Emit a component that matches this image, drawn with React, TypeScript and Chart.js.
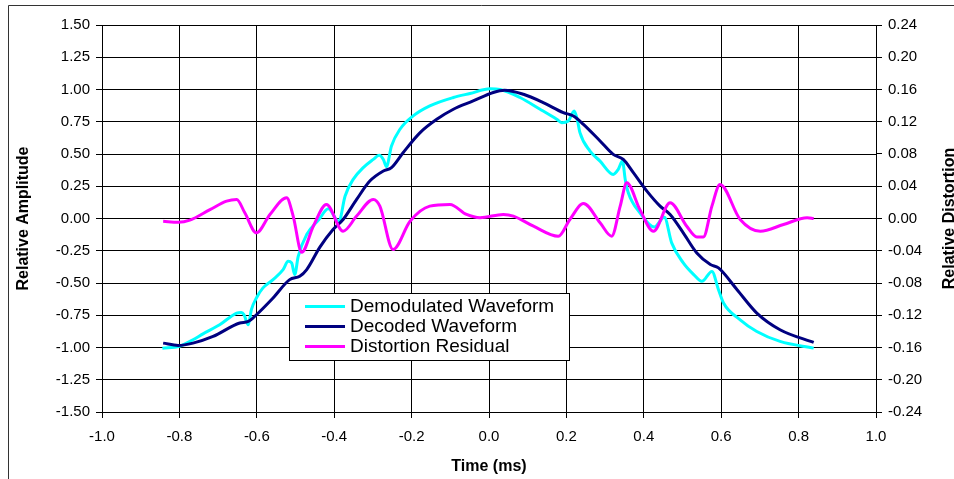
import React, { useEffect, useRef } from "react";
import { Chart, registerables } from "chart.js";

Chart.register(...registerables);

// ---- Data ----
const demodX = [
  -0.844, -0.8, -0.765, -0.739, -0.696, -0.652, -0.64, -0.633, -0.622, -0.614,
  -0.601, -0.584, -0.558, -0.532, -0.519, -0.51, -0.502, -0.493, -0.471, -0.44,
  -0.415, -0.388, -0.372, -0.351, -0.325, -0.299, -0.284, -0.273, -0.265, -0.252,
  -0.23, -0.196, -0.153, -0.092, -0.049, 0.003, 0.028, 0.08, 0.132, 0.175,
  0.188, 0.205, 0.22, 0.228, 0.235, 0.261, 0.287, 0.321, 0.334, 0.345,
  0.352, 0.36, 0.39, 0.427, 0.453, 0.472, 0.502, 0.529, 0.55, 0.576,
  0.593, 0.606, 0.649, 0.692, 0.752, 0.839,
];
const demodY = [
  -1.005, -0.99, -0.94, -0.894, -0.824, -0.733, -0.728, -0.746, -0.824, -0.707,
  -0.616, -0.538, -0.474, -0.396, -0.332, -0.344, -0.435, -0.293, -0.124, -0.01,
  0.075, -0.025, 0.173, 0.303, 0.394, 0.458, 0.49, 0.458, 0.402, 0.562,
  0.692, 0.795, 0.873, 0.938, 0.969, 1.005, 1.0, 0.938, 0.847, 0.769,
  0.743, 0.756, 0.834, 0.769, 0.666, 0.523, 0.445, 0.342, 0.381, 0.445,
  0.303, 0.2, 0.044, -0.066, 0.01, -0.189, -0.344, -0.435, -0.487, -0.41,
  -0.552, -0.655, -0.785, -0.876, -0.953, -1.005,
];

const decodedX = [
  -0.842, -0.803, -0.765, -0.713, -0.644, -0.622, -0.601, -0.558, -0.515, -0.489,
  -0.471, -0.437, -0.403, -0.377, -0.342, -0.308, -0.273, -0.252, -0.222, -0.178,
  -0.135, -0.092, -0.041, 0.011, 0.04, 0.089, 0.14, 0.192, 0.218, 0.244,
  0.287, 0.321, 0.347, 0.373, 0.408, 0.442, 0.468, 0.502, 0.537, 0.572,
  0.593, 0.641, 0.692, 0.752, 0.839,
];
const decodedY = [
  -0.966, -0.984, -0.966, -0.914, -0.81, -0.798, -0.746, -0.616, -0.474, -0.448,
  -0.396, -0.222, -0.085, -0.008, 0.148, 0.29, 0.368, 0.394, 0.51, 0.666,
  0.769, 0.847, 0.911, 0.977, 0.995, 0.963, 0.899, 0.821, 0.795, 0.73,
  0.601, 0.497, 0.458, 0.355, 0.212, 0.096, 0.031, -0.111, -0.267, -0.357,
  -0.383, -0.552, -0.733, -0.862, -0.961,
];

const residualX = [
  -0.842, -0.803, -0.773, -0.721, -0.678, -0.652, -0.631, -0.601, -0.566, -0.523,
  -0.506, -0.484, -0.454, -0.42, -0.377, -0.342, -0.299, -0.282, -0.248, -0.204,
  -0.153, -0.101, -0.058, -0.023, 0.037, 0.063, 0.115, 0.179, 0.209, 0.244,
  0.287, 0.317, 0.339, 0.356, 0.39, 0.425, 0.468, 0.511, 0.537, 0.554,
  0.576, 0.597, 0.649, 0.701, 0.761, 0.822, 0.839,
];
const residualY = [
  -0.0034, -0.0046, -0.002, 0.011, 0.0215, 0.0236, 0.007, -0.0178, 0.005, 0.0257,
  0.003, -0.042, -0.0096, 0.0174, -0.0158, 0.003, 0.0236, 0.0153, -0.0385, -0.0034,
  0.0153, 0.0174, 0.005, 0.001, 0.005, 0.003, -0.0096, -0.022, -0.0012, 0.0186,
  -0.0053, -0.022, 0.0153, 0.0443, 0.011, -0.0158, 0.0195, -0.0096, -0.0228, -0.0228,
  0.0153, 0.0422, -0.0012, -0.0158, -0.0075, 0.001, 0.0,
];

const seriesNames = ["Demodulated Waveform", "Decoded Waveform", "Distortion Residual"];
const seriesColors = ["#00FFFF", "#000080", "#FF00FF"];
const xTitle = "Time (ms)";
const yTitle = "Relative Amplitude";
const y2Title = "Relative Distortion";

const FONT = '"Liberation Sans", Arial, Helvetica, sans-serif';

const fmt = (v: number, d: number) => {
  const n = Math.abs(v) < 1e-9 ? 0 : v;
  return n.toFixed(d);
};

const decorPlugin = {
  id: "decor",
  afterDraw(chart: any) {
    const ctx = chart.ctx as CanvasRenderingContext2D;
    ctx.save();
    // outer frame (clipped at right/bottom by the window)
    ctx.strokeStyle = "#333";
    ctx.lineWidth = 1;
    ctx.beginPath();
    ctx.moveTo(8.5, 479);
    ctx.lineTo(8.5, 5.5);
    ctx.lineTo(954, 5.5);
    ctx.stroke();

    // right axis title (reads bottom to top)
    ctx.save();
    ctx.font = `bold 16px ${FONT}`;
    ctx.fillStyle = "#000";
    ctx.textAlign = "center";
    ctx.textBaseline = "middle";
    ctx.translate(949.5, 218.5);
    ctx.rotate(-Math.PI / 2);
    ctx.fillText(y2Title, 0, 0);
    ctx.restore();

    // legend box
    const bx = 289.5, by = 293.5, bw = 280, bh = 67;
    ctx.fillStyle = "#fff";
    ctx.fillRect(bx, by, bw, bh);
    ctx.strokeStyle = "#000";
    ctx.lineWidth = 1;
    ctx.strokeRect(bx, by, bw, bh);
    ctx.font = `19px ${FONT}`;
    ctx.textAlign = "left";
    ctx.textBaseline = "middle";
    chart.data.datasets.forEach((ds: any, i: number) => {
      const yy = 306.5 + i * 20;
      ctx.strokeStyle = ds.borderColor;
      ctx.lineWidth = 3;
      ctx.beginPath();
      ctx.moveTo(305, yy);
      ctx.lineTo(345, yy);
      ctx.stroke();
      ctx.fillStyle = "#000";
      ctx.fillText(ds.label, 350, yy);
    });
    ctx.restore();
  },
};

export default function App() {
  const ref = useRef<HTMLCanvasElement | null>(null);

  useEffect(() => {
    if (!ref.current) return;
    const mk = (xs: number[], ys: number[]) => xs.map((x, i) => ({ x, y: ys[i] }));
    const chart = new Chart(ref.current, {
      type: "line",
      data: {
        datasets: [
          {
            label: seriesNames[0],
            data: mk(demodX, demodY),
            borderColor: seriesColors[0],
            backgroundColor: seriesColors[0],
            borderWidth: 3,
            pointRadius: 0,
            cubicInterpolationMode: "monotone",
            yAxisID: "y",
            order: 3,
          },
          {
            label: seriesNames[1],
            data: mk(decodedX, decodedY),
            borderColor: seriesColors[1],
            backgroundColor: seriesColors[1],
            borderWidth: 3,
            pointRadius: 0,
            cubicInterpolationMode: "monotone",
            yAxisID: "y",
            order: 2,
          },
          {
            label: seriesNames[2],
            data: mk(residualX, residualY),
            borderColor: seriesColors[2],
            backgroundColor: seriesColors[2],
            borderWidth: 3,
            pointRadius: 0,
            cubicInterpolationMode: "monotone",
            yAxisID: "y2",
            order: 1,
          },
        ],
      },
      options: {
        animation: false,
        responsive: false,
        devicePixelRatio: 1,
        layout: { padding: { top: 25, left: 0, right: 0, bottom: 0 } },
        plugins: { legend: { display: false }, tooltip: { enabled: false } },
        scales: {
          x: {
            type: "linear",
            min: -1,
            max: 1,
            afterFit: (s: any) => { s.height = 67; },
            ticks: {
              stepSize: 0.2,
              autoSkip: false,
              maxRotation: 0,
              padding: 10,
              color: "#000",
              font: { family: FONT, size: 15 },
              callback: (v: any) => fmt(Number(v), 1),
            },
            grid: { color: "#000", lineWidth: 1, tickLength: 6 },
            border: { color: "#000", width: 1 },
            title: {
              display: true,
              text: xTitle,
              color: "#000",
              font: { family: FONT, size: 16, weight: "bold" },
              padding: { top: 0, bottom: 3 },
            },
          },
          y: {
            type: "linear",
            position: "left",
            min: -1.5,
            max: 1.5,
            afterFit: (s: any) => { s.width = 102; },
            ticks: {
              stepSize: 0.25,
              autoSkip: false,
              padding: 6,
              color: "#000",
              font: { family: FONT, size: 15 },
              callback: (v: any) => fmt(Number(v), 2),
            },
            grid: { color: "#000", lineWidth: 1, tickLength: 6 },
            border: { color: "#000", width: 1 },
            title: {
              display: true,
              text: yTitle,
              color: "#000",
              font: { family: FONT, size: 16, weight: "bold" },
              padding: { top: 13.6, bottom: 0 },
            },
          },
          y2: {
            type: "linear",
            position: "right",
            min: -0.24,
            max: 0.24,
            afterFit: (s: any) => { s.width = 78; },
            ticks: {
              stepSize: 0.04,
              autoSkip: false,
              padding: 6,
              color: "#000",
              font: { family: FONT, size: 15 },
              callback: (v: any) => fmt(Number(v), 2),
            },
            grid: { color: "#000", lineWidth: 1, tickLength: 6, drawOnChartArea: false },
            border: { color: "#000", width: 1 },
          },
        },
      } as any,
      plugins: [decorPlugin],
    });
    return () => chart.destroy();
  }, []);

  return (
    <div style={{ position: "absolute", left: 0, top: 0, width: 954, height: 479, background: "#fff" }}>
      <canvas ref={ref} width={954} height={479} style={{ display: "block", width: 954, height: 479 }} />
    </div>
  );
}
